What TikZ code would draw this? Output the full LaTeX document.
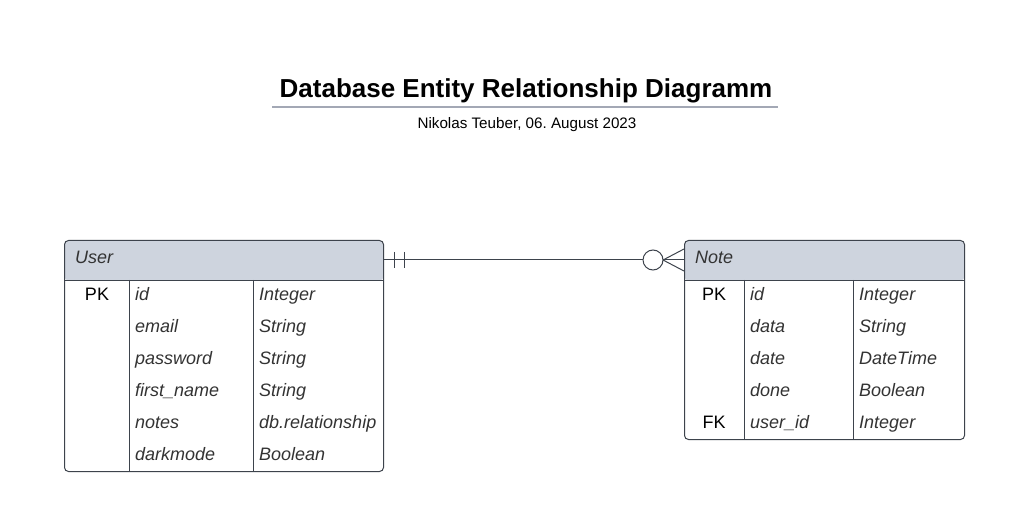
\documentclass[tikz,border=0pt]{standalone}
\usepackage{fontspec}
\setmainfont{Liberation Sans}
\frenchspacing
\definecolor{headgray}{HTML}{CED4DE}
\definecolor{linegray}{HTML}{3D434C}
\definecolor{textgray}{HTML}{333333}
\definecolor{rulegray}{HTML}{A3A8B5}
\tikzset{
	tablebox/.style={draw=linegray, line width=1pt, rounded corners=4pt, anchor=north west, inner sep=0pt,
		path picture={\fill[headgray] (path picture bounding box.north west) rectangle ([yshift=-40pt]path picture bounding box.north east);}},
	cell/.style={anchor=base west, inner sep=0pt, text=textgray, font=\fontsize{18}{21}\selectfont\itshape},
	keycell/.style={anchor=base, inner sep=0pt, font=\fontsize{18}{21}\selectfont},
	relline/.style={draw=linegray, line width=1pt}
}
\begin{document}
\begin{tikzpicture}[x=1pt,y=-1pt]
	\useasboundingbox[fill=white] (0,0) rectangle (1032,526);
	% title
	\node[anchor=base, font=\fontsize{26}{31}\selectfont\bfseries] (title) at (526,98) {Database Entity Relationship Diagramm};
	\draw[rulegray, line width=1.5pt] (272,107) -- (778,107);
	\node[anchor=base, font=\fontsize{15.2}{18}\selectfont] (subtitle) at (527,128.5) {Nikolas Teuber, 06. August 2023};
	% User table
	\node[tablebox, minimum width=319pt, minimum height=231pt] (user) at (64,240) {};
	\draw[linegray] (64,280) -- (383,280);
	\draw[linegray] (129,280) -- (129,471);
	\draw[linegray] (253,280) -- (253,471);
	\node[cell] (user-head) at (75,264) {User};
	\node[keycell] (user-pk) at (97,300) {PK};
	\foreach \n/\t [count=\i] in {id/Integer, email/String, password/String, first\_name/String, notes/db.relationship, darkmode/Boolean}{
		\node[cell] (user-n\i) at (135,268+32*\i) {\n};
		\node[cell] (user-t\i) at (259,268+32*\i) {\t};
	}
	% Note table
	\node[tablebox, minimum width=280pt, minimum height=199pt] (note) at (684,240) {};
	\draw[linegray] (684,280) -- (964,280);
	\draw[linegray] (744,280) -- (744,439);
	\draw[linegray] (853,280) -- (853,439);
	\node[cell] (note-head) at (695,264) {Note};
	\node[keycell] (note-pk) at (714,300) {PK};
	\node[keycell] (note-fk) at (714,428) {FK};
	\foreach \n/\t [count=\i] in {id/Integer, data/String, date/DateTime, done/Boolean, user\_id/Integer}{
		\node[cell] (note-n\i) at (750,268+32*\i) {\n};
		\node[cell] (note-t\i) at (859,268+32*\i) {\t};
	}
	% relation: one user -- many notes
	\coordinate (u1) at ([yshift=-20pt]user.north east);
	\coordinate (n1) at ([yshift=-20pt]note.north west);
	\draw[relline] (u1) -- (n1);
	\draw[relline] ([xshift=10pt]u1) +(0,-8) -- +(0,8);
	\draw[relline] ([xshift=20pt]u1) +(0,-8) -- +(0,8);
	\draw[relline, fill=white] ([xshift=-31pt]n1) circle(10pt);
	\draw[relline] ([xshift=-21pt]n1) -- ([yshift=11pt]n1);
	\draw[relline] ([xshift=-21pt]n1) -- ([yshift=-11pt]n1);
\end{tikzpicture}
\end{document}
